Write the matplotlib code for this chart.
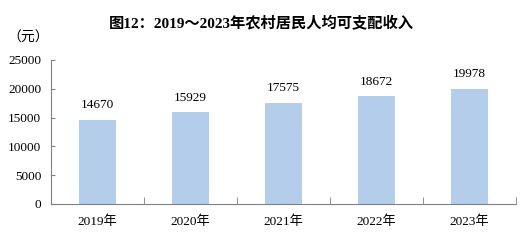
import matplotlib
matplotlib.use("Agg")
from matplotlib import pyplot as plt

years = ["2019年", "2020年", "2021年", "2022年", "2023年"]
income = [14670, 15929, 17575, 18672, 19978]
yticks = [0, 5000, 10000, 15000, 20000, 25000]

plt.rcParams['font.family'] = ['Liberation Serif', 'Noto Sans CJK SC']

fig = plt.figure(figsize=(5.23, 2.5), dpi=100)
ax = fig.add_axes([51 / 523, 46 / 250, 465 / 523, 144 / 250])

x = list(range(len(years)))
bars = ax.bar(x, income, width=0.4, color="#b3cdeb")
for b, v in zip(bars, income):
    ax.text(b.get_x() + b.get_width() / 2, v + 1500, str(v),
            ha="center", va="bottom", fontsize=9.5)

ax.set_xlim(-0.5, len(years) - 0.5)
ax.set_ylim(0, 25000)
ax.set_yticks(yticks)
ax.set_yticklabels([str(t) for t in yticks], fontsize=9.5)
ax.set_xticks(x)
ax.set_xticklabels(years, fontsize=9.5)
ax.tick_params(axis="x", length=0, pad=8)
ax.set_xticks([i + 0.5 for i in x], minor=True)
ax.tick_params(axis="x", which="minor", direction="in", length=5, color="#808080")
ax.tick_params(axis="y", direction="in", length=3, color="#808080", pad=7)

for s in ["top", "right"]:
    ax.spines[s].set_visible(False)
for s in ["left", "bottom"]:
    ax.spines[s].set_color("#808080")
    ax.spines[s].set_linewidth(0.8)

fig.text(0.5, 0.905, "图12：2019～2023年农村居民人均可支配收入",
         ha="center", va="center", fontsize=11, fontweight="bold",
         family=['Liberation Serif', 'Noto Sans CJK SC'])
fig.text(0.015, 0.85, "（元）", ha="left", va="center", fontsize=10,
         family=['Noto Sans CJK SC'])

fig.savefig("out.png", dpi=100)
